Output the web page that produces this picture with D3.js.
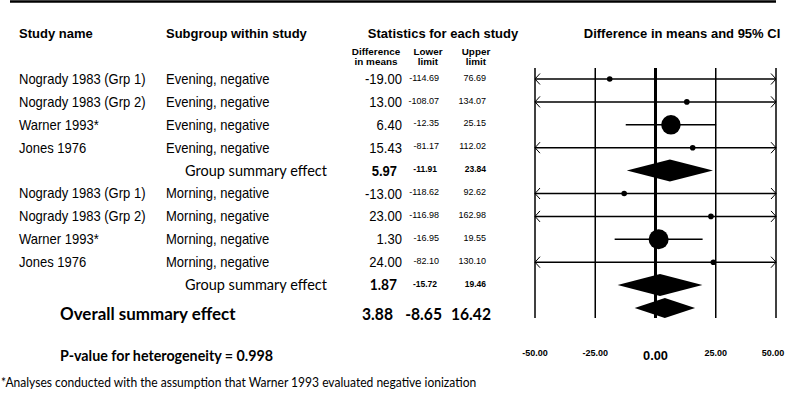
<!DOCTYPE html>
<html>
<head>
<meta charset="utf-8">
<script src="https://cdn.jsdelivr.net/npm/d3@7"></script>
<style>
  body { margin: 0; background: #fff; }
  svg { display: block; }
  .arial { font-family: "Liberation Sans", Arial, sans-serif; }
  .calib { font-family: Lato, "Open Sans", sans-serif; }
</style>
</head>
<body>
<div id="chart"></div>
<script>
// study rows
var study_names = ["Nogrady 1983 (Grp 1)", "Nogrady 1983 (Grp 2)", "Warner 1993*", "Jones 1976",
                   "Nogrady 1983 (Grp 1)", "Nogrady 1983 (Grp 2)", "Warner 1993*", "Jones 1976"];
var subgroups = ["Evening, negative", "Evening, negative", "Evening, negative", "Evening, negative",
                 "Morning, negative", "Morning, negative", "Morning, negative", "Morning, negative"];
var diff_means = [-19.00, 13.00, 6.40, 15.43, -13.00, 23.00, 1.30, 24.00];
var lower_limit = [-114.69, -108.07, -12.35, -81.17, -118.62, -116.98, -16.95, -82.10];
var upper_limit = [76.69, 134.07, 25.15, 112.02, 92.62, 162.98, 19.55, 130.10];

// group summaries (evening, morning)
var group_diff = [5.97, 1.87];
var group_lower = [-11.91, -15.72];
var group_upper = [23.84, 19.46];

// overall
var overall_diff = 3.88, overall_lower = -8.65, overall_upper = 16.42;
var p_heterogeneity = "0.998";

var x_ticks = [-50, -25, 0, 25, 50];

var width = 785, height = 395;
var svg = d3.select("#chart").append("svg")
    .attr("width", width).attr("height", height);

var scale_X = d3.scaleLinear().domain([-50, 50]).range([535, 776]);
var scale_Y = d3.scaleLinear().domain([0, 10]).range([79, 308]);   // 11 row slots
var y_top = 68, y_bot = 318;

// weights = inverse variance, marker area follows weight
var se = diff_means.map(function(d, i) { return (upper_limit[i] - lower_limit[i]) / 3.92; });
var weights = se.map(function(s) { return 1 / (s * s); });
var scale_R = d3.scaleSqrt().domain([0, d3.max(weights)]).range([0, 10]);

// build row table: 4 studies, summary, 4 studies, summary
var rows = [];
var slot = 0;
for (var g = 0; g < 2; g++) {
  for (var k = 0; k < 4; k++) {
    var i = g * 4 + k;
    rows.push({ kind: "study", slot: slot++, name: study_names[i], sub: subgroups[i],
                d: diff_means[i], lo: lower_limit[i], hi: upper_limit[i], w: weights[i] });
  }
  rows.push({ kind: "group", slot: slot++, d: group_diff[g], lo: group_lower[g], hi: group_upper[g] });
}
var overall = { kind: "overall", slot: slot, d: overall_diff, lo: overall_lower, hi: overall_upper };

// text placed at (x,y), squeezed horizontally by sx (source glyphs are narrow)
function put(g, x, y, str, size, anchor, sx) {
  return g.append("text")
    .attr("transform", "translate(" + x + "," + y + ") scale(" + (sx || 1) + ",1)")
    .attr("dy", "0.35em").attr("text-anchor", anchor || "start")
    .style("font-size", size + "px").text(str);
}

// top rule
svg.append("line").attr("x1", 10).attr("x2", 776).attr("y1", 1.5).attr("y2", 1.5)
  .style("stroke", "#000").style("stroke-width", 2.5);

// headers
var hdr = svg.append("g").attr("class", "arial").style("font-weight", "bold");
put(hdr, 19, 33, "Study name", 13);
put(hdr, 166, 33, "Subgroup within study", 13);
put(hdr, 443, 33, "Statistics for each study", 13, "middle");
put(hdr, 682, 33, "Difference in means and 95% CI", 13, "middle");

var sub_hdr = [["Difference", "in means", 376], ["Lower", "limit", 428], ["Upper", "limit", 476]];
sub_hdr.forEach(function(h) {
  put(hdr, h[2], 51.5, h[0], 9.5, "middle", 1.04);
  put(hdr, h[2], 61.5, h[1], 9.5, "middle", 1.04);
});

// grid lines
svg.selectAll(".vline").data(x_ticks).enter().append("line").attr("class", "vline")
  .attr("x1", function(d) { return scale_X(d); }).attr("x2", function(d) { return scale_X(d); })
  .attr("y1", y_top).attr("y2", y_bot)
  .style("stroke", "#000").style("stroke-width", function(d) { return d == 0 ? 3 : 1.5; });

// study rows text
var study_rows = rows.filter(function(r) { return r.kind == "study"; });
var txt = svg.append("g").attr("class", "arial");
study_rows.forEach(function(r) {
  var y = scale_Y(r.slot);
  put(txt, 19, y, r.name, 14, "start", 0.93);
  put(txt, 166, y, r.sub, 14, "start", 0.93);
  put(txt, 402, y, r.d.toFixed(2), 14.5, "end", 0.9);
  put(txt, 439, y - 1.5, r.lo.toFixed(2), 9, "end");
  put(txt, 486, y - 1.5, r.hi.toFixed(2), 9, "end");
});

// group summary rows text
rows.filter(function(r) { return r.kind == "group"; }).forEach(function(r, gi) {
  var y = scale_Y(r.slot);
  put(svg.append("g").attr("class", "calib"), 185, y, "Group summary effect", 14.5);
  var gb = svg.append("g").attr("class", gi == 0 ? "arial" : "calib").style("font-weight", "bold");
  put(gb, 397, y, r.d.toFixed(2), gi == 0 ? 14 : 14.5, "end", gi == 0 ? 0.93 : 0.95);
  var gs = svg.append("g").attr("class", "arial").style("font-weight", "bold");
  put(gs, 437, y - 1.5, r.lo.toFixed(2), 8.5, "end");
  put(gs, 486, y - 1.5, r.hi.toFixed(2), 8.5, "end");
});

// overall row text
var oy = scale_Y(overall.slot) + 6;
var ov = svg.append("g").attr("class", "calib").style("font-weight", "bold");
put(ov, 60, oy, "Overall summary effect", 17.5, "start", 0.97);
put(ov, 393, oy, overall.d.toFixed(2), 16.5, "end", 0.95);
put(ov, 442, oy, overall.lo.toFixed(2), 16.5, "end", 0.95);
put(ov, 491, oy, overall.hi.toFixed(2), 16.5, "end", 0.95);

// p-value + footnote
var pv = svg.append("g").attr("class", "calib");
put(pv, 60, 356, "P-value for heterogeneity = " + p_heterogeneity, 14.5, "start", 0.985).style("font-weight", "bold");
put(pv, 1, 383, "*Analyses conducted with the assumption that Warner 1993 evaluated negative ionization", 12.5, "start", 0.965);

// x tick labels
var tk = svg.append("g").attr("class", "arial").style("font-weight", "bold");
x_ticks.forEach(function(d) {
  put(tk, scale_X(d) - (d == 50 ? 3 : 0), d == 0 ? 355 : 352.5, d.toFixed(2),
      d == 0 ? 13.5 : 9, "middle", d == 0 ? 0.95 : 1);
});

// CI lines with arrows when clipped
var plot = svg.append("g");
study_rows.forEach(function(r) {
  var y = scale_Y(r.slot);
  var x0 = scale_X(Math.max(r.lo, -50)), x1 = scale_X(Math.min(r.hi, 50));
  plot.append("line").attr("x1", x0).attr("x2", x1).attr("y1", y).attr("y2", y)
    .style("stroke", "#000").style("stroke-width", 1.5);
  if (r.lo < -50) {
    plot.append("path").attr("d", "M" + (x0 + 5) + "," + (y - 5.5) + "L" + x0 + "," + y + "L" + (x0 + 5) + "," + (y + 5.5))
      .style("fill", "none").style("stroke", "#000").style("stroke-width", 1);
  }
  if (r.hi > 50) {
    plot.append("path").attr("d", "M" + (x1 - 5) + "," + (y - 5.5) + "L" + x1 + "," + y + "L" + (x1 - 5) + "," + (y + 5.5))
      .style("fill", "none").style("stroke", "#000").style("stroke-width", 1);
  }
  plot.append("circle").attr("cx", scale_X(r.d)).attr("cy", y)
    .attr("r", Math.max(scale_R(r.w), 2.8)).style("fill", "#000");
});

// diamonds
var diamonds = rows.filter(function(r) { return r.kind == "group"; }).concat([overall]);
plot.selectAll(".diamond").data(diamonds).enter().append("path").attr("class", "diamond")
  .attr("d", function(r) {
    var y = scale_Y(r.slot), h = r.kind == "overall" ? 10 : 11;
    return "M" + scale_X(r.lo) + "," + y + "L" + scale_X(r.d) + "," + (y - h) +
           "L" + scale_X(r.hi) + "," + y + "L" + scale_X(r.d) + "," + (y + h) + "Z";
  })
  .style("fill", "#000");
</script>
</body>
</html>
